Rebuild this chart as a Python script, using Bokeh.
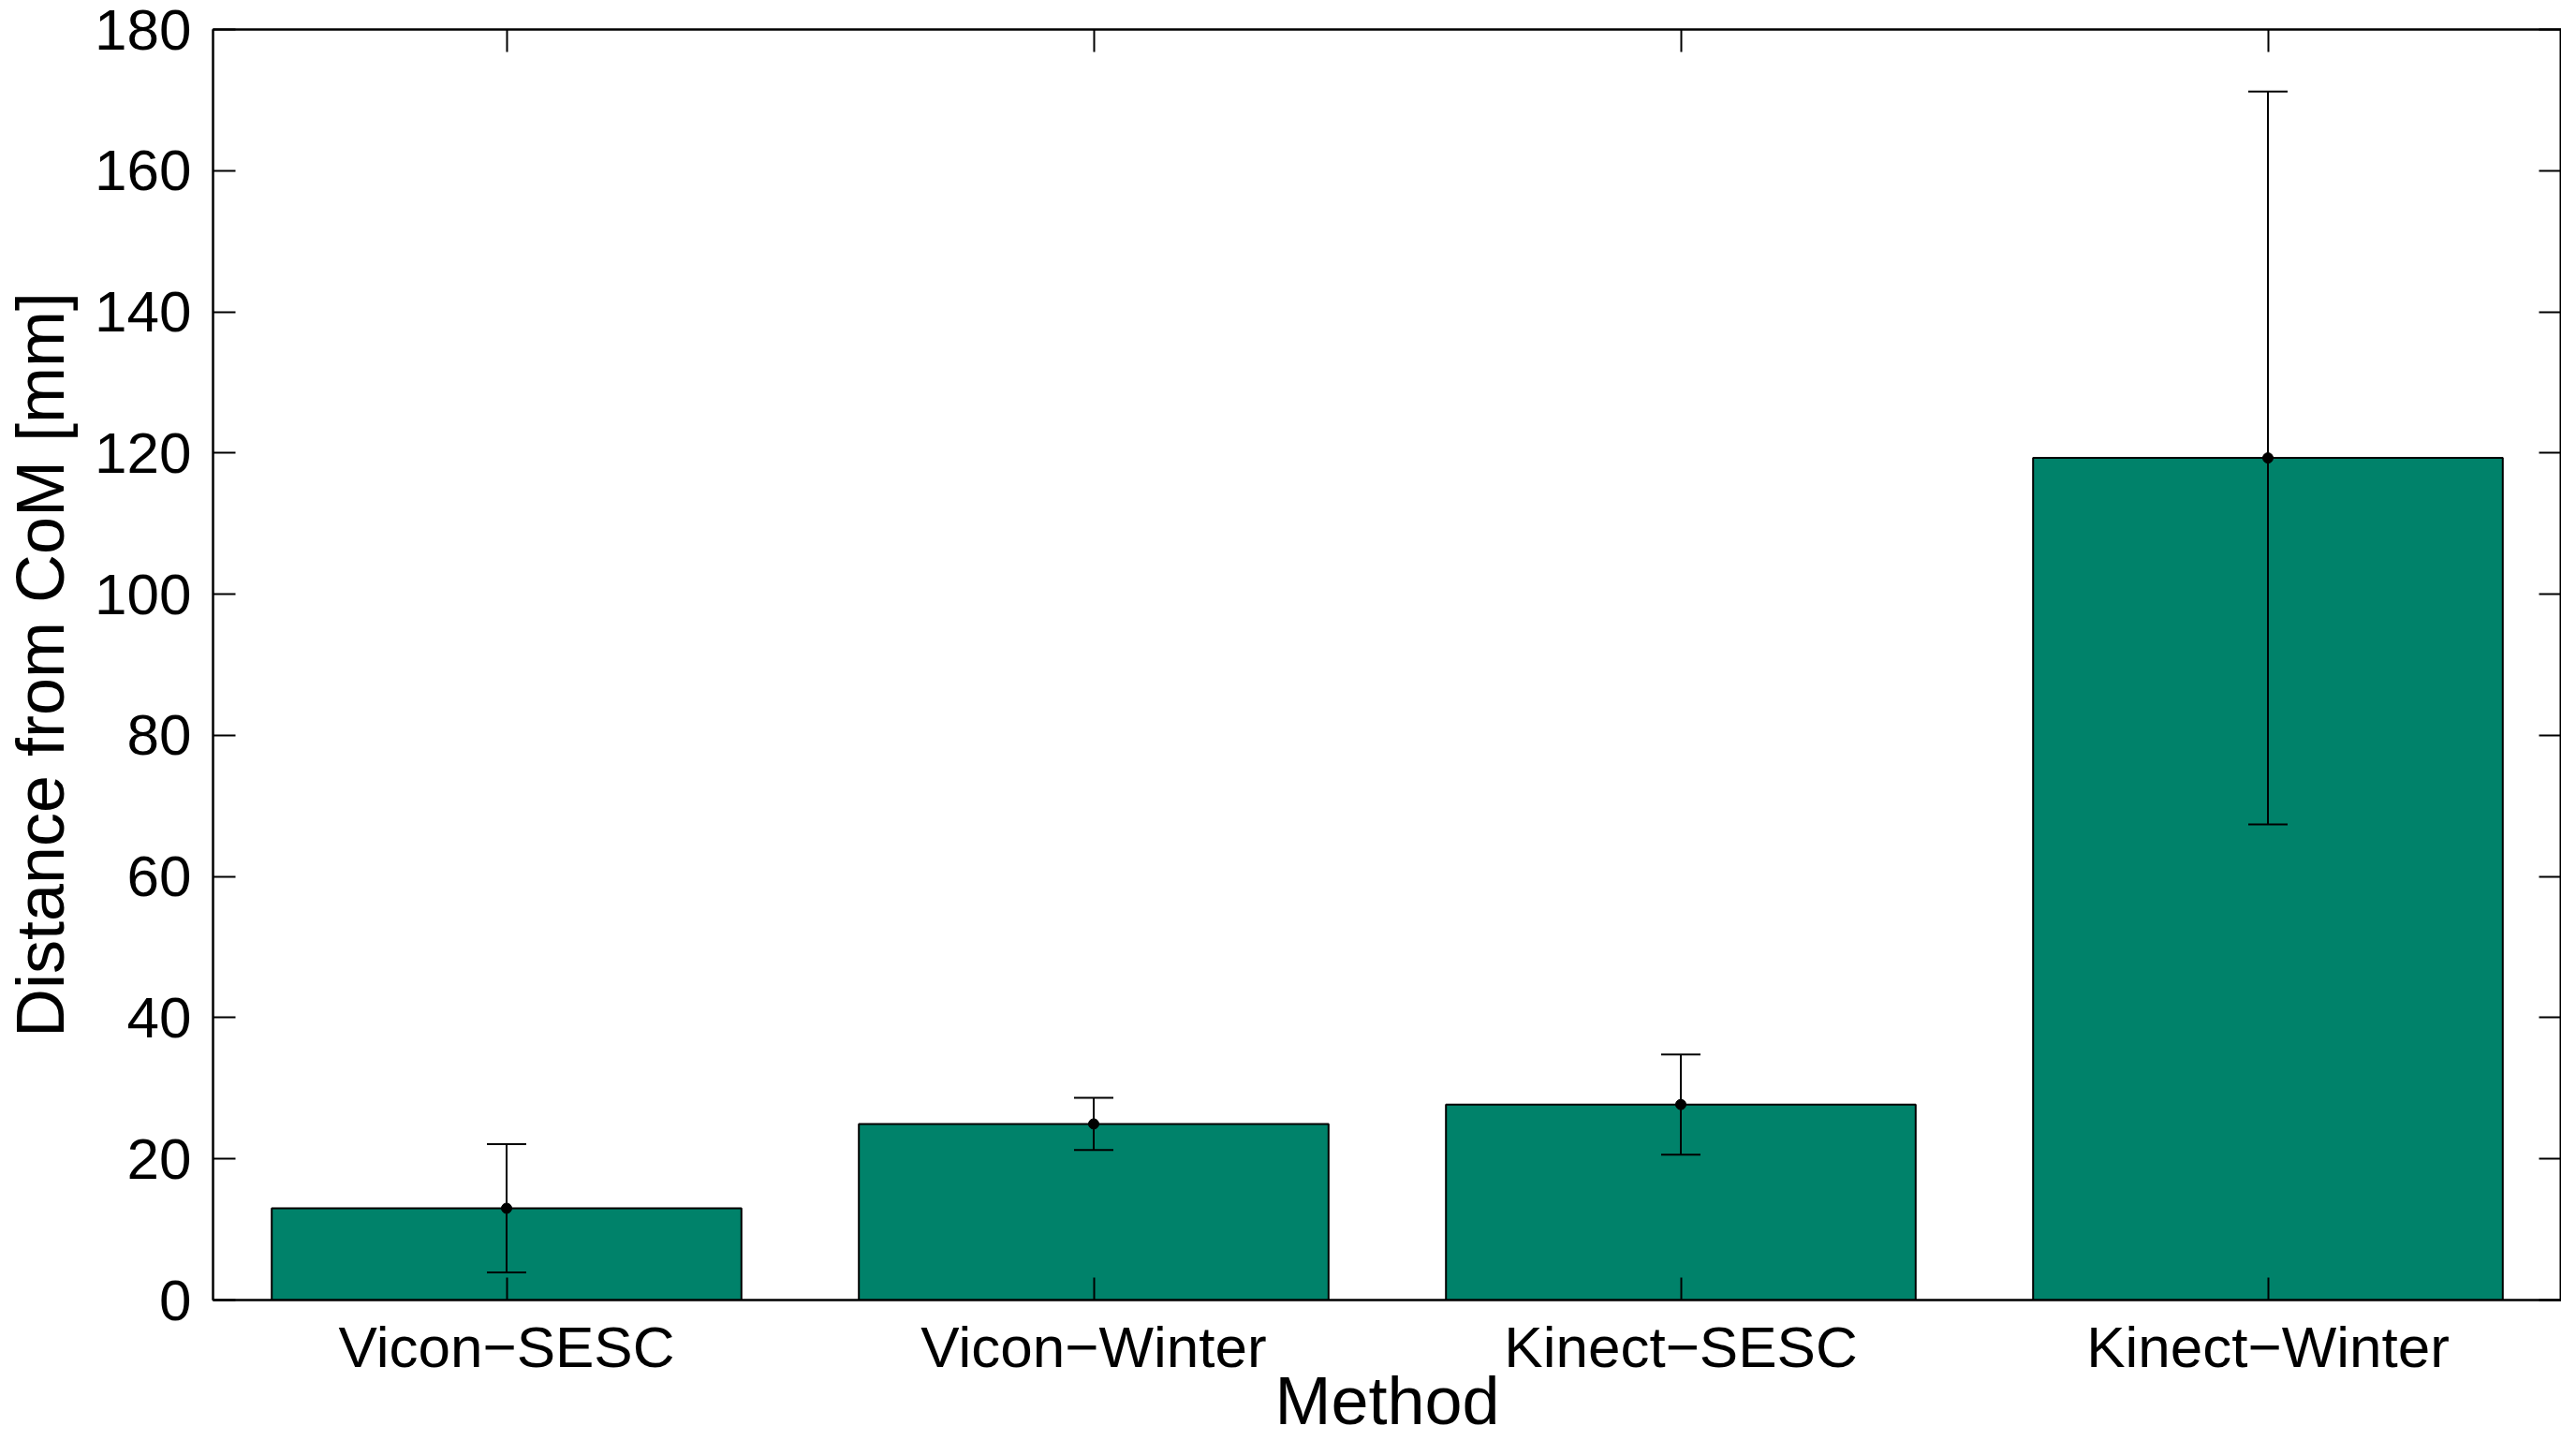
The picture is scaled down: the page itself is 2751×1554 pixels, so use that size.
from bokeh.plotting import figure
from bokeh.models import (FactorRange, Range1d, ColumnDataSource, Whisker, TeeHead,
                          LinearAxis, CategoricalAxis, FixedTicker)
from bokeh.embed import file_html
from bokeh.resources import INLINE

# ---- data ----
methods = ["Vicon\u2212SESC", "Vicon\u2212Winter", "Kinect\u2212SESC", "Kinect\u2212Winter"]
means = [13.0, 24.95, 27.7, 119.3]
stds = [9.1, 3.7, 7.1, 51.9]
y_ticks = [0, 20, 40, 60, 80, 100, 120, 140, 160, 180]
x_title = "Method"
y_title = "Distance from CoM [mm]"

FONT = "Liberation Sans"
BAR_COLOR = "#00826A"

src = ColumnDataSource(dict(
    x=methods,
    mean=means,
    upper=[m + s for m, s in zip(means, stds)],
    lower=[m - s for m, s in zip(means, stds)],
))

p = figure(
    width=2735, height=1538,
    x_range=FactorRange(*methods, range_padding=0),
    y_range=Range1d(0, 180),
    output_backend="svg", toolbar_location=None,
    min_border_left=220, min_border_right=0, min_border_top=31, min_border_bottom=150,
)
p.x_range.factor_padding = 0
p.grid.visible = False
p.outline_line_color = "black"
p.outline_line_width = 2

p.vbar(x="x", top="mean", width=0.8, source=src, fill_color=BAR_COLOR,
       line_color="black", line_width=2)

wh = Whisker(base="x", upper="upper", lower="lower", source=src,
             line_color="black", line_width=2, level="overlay",
             upper_head=TeeHead(size=42, line_color="black", line_width=2),
             lower_head=TeeHead(size=42, line_color="black", line_width=2))
p.add_layout(wh)

p.scatter(x="x", y="mean", source=src, size=11, color="black", level="overlay")

# bottom axis
xa = p.xaxis[0]
xa.axis_label = x_title
xa.axis_label_text_font = FONT
xa.axis_label_text_font_size = "72px"
xa.axis_label_text_font_style = "normal"
xa.axis_label_text_color = "black"
xa.axis_label_standoff = -20
xa.major_label_text_font = FONT
xa.major_label_text_font_size = "62px"
xa.major_label_text_color = "black"
xa.major_label_standoff = 15
xa.major_tick_in = 24
xa.major_tick_out = 0
xa.major_tick_line_width = 2
xa.axis_line_width = 2

# left axis
ya = p.yaxis[0]
ya.ticker = FixedTicker(ticks=y_ticks)
ya.axis_label = y_title
ya.axis_label_text_font = FONT
ya.axis_label_text_font_size = "72px"
ya.axis_label_text_font_style = "normal"
ya.axis_label_text_color = "black"
ya.axis_label_standoff = 15
ya.major_label_text_font = FONT
ya.major_label_text_font_size = "62px"
ya.major_label_text_color = "black"
ya.major_label_standoff = 23
ya.major_tick_in = 24
ya.major_tick_out = 0
ya.minor_tick_line_color = None
ya.major_tick_line_width = 2
ya.axis_line_width = 2

# mirrored axes (ticks only)
ra = LinearAxis(ticker=FixedTicker(ticks=y_ticks), major_label_text_font_size="0px",
                major_label_standoff=0, major_tick_in=24, major_tick_out=0,
                minor_tick_line_color=None, major_tick_line_width=2, axis_line_width=2)
p.add_layout(ra, "right")
ta = CategoricalAxis(major_label_text_font_size="0px", major_label_standoff=0,
                     major_tick_in=24, major_tick_out=0, major_tick_line_width=2,
                     axis_line_width=2)
p.add_layout(ta, "above")

open("out.html", "w").write(file_html(p, INLINE))
